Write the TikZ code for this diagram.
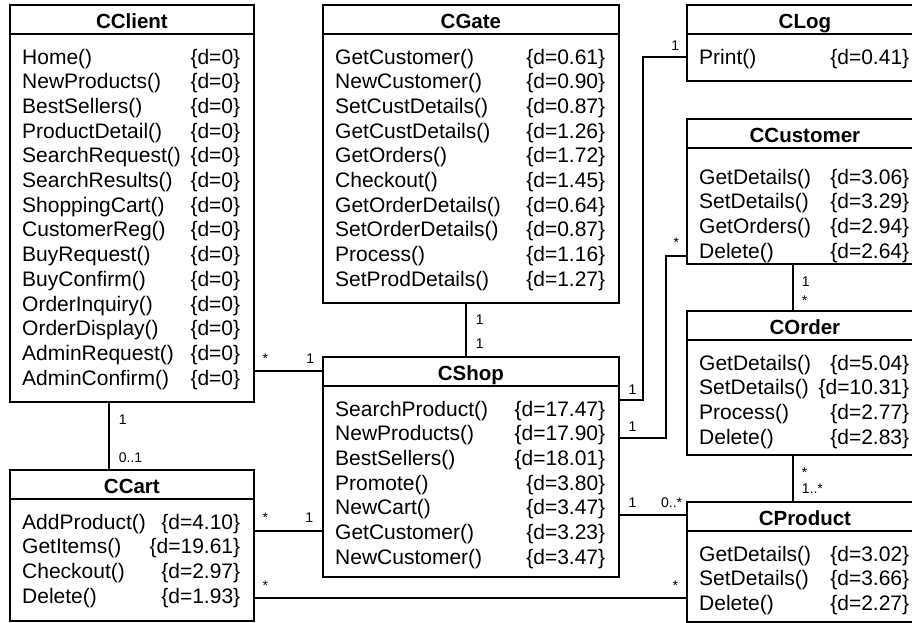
\documentclass[tikz,border=0pt]{standalone}
\usepackage{fontspec}
\setmainfont{Liberation Sans}
\usetikzlibrary{shapes}

% one operation line of a class: name and its value
\newcommand{\meth}[2]{#1 & \{d=#2\}\\}

% class box: [first baseline], name, left, top, width, height, title, operations
\newcommand{\umlclass}[8][60]{%
  \node[classbox, minimum width=#5, minimum height=#6] (#2) at (#3,#4) {};
  \draw[assoc] ([yshift=-30pt]#2.north west) -- ([yshift=-30pt]#2.north east);
  \node[classname] (#2-name) at ([yshift=-24pt]#2.north) {#7};
  \node[classbody] (#2-ops) at ([shift={(13pt,-#1pt)}]#2.north west)
    {\begin{tabular*}{\dimexpr#5pt-26pt\relax}[t]{@{}l@{\extracolsep{\fill}}r@{}}#8\end{tabular*}};
}

\begin{document}
\begin{tikzpicture}[x=1pt, y=-1pt,
    classbox/.style={draw, line width=1.8pt, anchor=north west, inner sep=0pt},
    classname/.style={anchor=base, inner sep=0pt, font=\bfseries\fontsize{20.5}{24}\selectfont},
    classbody/.style={anchor=base west, inner sep=0pt, font=\fontsize{21}{24.7}\selectfont},
    assoc/.style={line width=1.8pt},
    mult/.style={inner sep=0pt, font=\fontsize{14}{16}\selectfont}]
  \clip (0,0) rectangle (912,622);

  % classes
  \umlclass{client}{9}{4}{244}{397}{CClient}{%
    \meth{Home()}{0}\meth{NewProducts()}{0}\meth{BestSellers()}{0}%
    \meth{ProductDetail()}{0}\meth{SearchRequest()}{0}\meth{SearchResults()}{0}%
    \meth{ShoppingCart()}{0}\meth{CustomerReg()}{0}\meth{BuyRequest()}{0}%
    \meth{BuyConfirm()}{0}\meth{OrderInquiry()}{0}\meth{OrderDisplay()}{0}%
    \meth{AdminRequest()}{0}\meth{AdminConfirm()}{0}}
  \umlclass{gate}{322}{4}{296}{298}{CGate}{%
    \meth{GetCustomer()}{0.61}\meth{NewCustomer()}{0.90}\meth{SetCustDetails()}{0.87}%
    \meth{GetCustDetails()}{1.26}\meth{GetOrders()}{1.72}\meth{Checkout()}{1.45}%
    \meth{GetOrderDetails()}{0.64}\meth{SetOrderDetails()}{0.87}%
    \meth{Process()}{1.16}\meth{SetProdDetails()}{1.27}}
  \umlclass{log}{686}{4}{236}{76}{CLog}{\meth{Print()}{0.41}}
  \umlclass[66]{customer}{686}{118}{236}{145}{CCustomer}{%
    \meth{GetDetails()}{3.06}\meth{SetDetails()}{3.29}%
    \meth{GetOrders()}{2.94}\meth{Delete()}{2.64}}
  \umlclass{order}{686}{310}{236}{144}{COrder}{%
    \meth{GetDetails()}{5.04}\meth{SetDetails()}{10.31}%
    \meth{Process()}{2.77}\meth{Delete()}{2.83}}
  \umlclass{shop}{322}{356}{296}{220}{CShop}{%
    \meth{SearchProduct()}{17.47}\meth{NewProducts()}{17.90}\meth{BestSellers()}{18.01}%
    \meth{Promote()}{3.80}\meth{NewCart()}{3.47}\meth{GetCustomer()}{3.23}%
    \meth{NewCustomer()}{3.47}}
  \umlclass{cart}{9}{469}{244}{151}{CCart}{%
    \meth{AddProduct()}{4.10}\meth{GetItems()}{19.61}%
    \meth{Checkout()}{2.97}\meth{Delete()}{1.93}}
  \umlclass{product}{686}{501}{236}{120}{CProduct}{%
    \meth{GetDetails()}{3.02}\meth{SetDetails()}{3.66}\meth{Delete()}{2.27}}

  % associations, multiplicities at both ends
  \draw[assoc] ([yshift=-367pt]client.north east)
      node[mult, anchor=base west, shift={(7pt,8pt)}] (cs-a) {*}
    -- ([yshift=-15pt]shop.north west)
      node[mult, anchor=base east, shift={(-7pt,8pt)}] (cs-b) {1};
  \draw[assoc] ([xshift=100pt]client.south west)
      node[mult, anchor=base west, shift={(9pt,-22pt)}] (cc-a) {1}
    -- ([xshift=100pt]cart.north west)
      node[mult, anchor=base west, shift={(9pt,7pt)}] (cc-b) {0..1};
  \draw[assoc] ([xshift=144pt]gate.south west)
      node[mult, anchor=base west, shift={(9pt,-21pt)}] (gs-a) {1}
    -- ([xshift=144pt]shop.north west)
      node[mult, anchor=base west, shift={(9pt,8pt)}] (gs-b) {1};
  \draw[assoc] ([yshift=-44pt]shop.north east)
      node[mult, anchor=base west, shift={(8pt,6pt)}] (sl-a) {1}
    -- ++(23,0) |- ([yshift=-53pt]log.north west)
      node[mult, anchor=base east, shift={(-6pt,7pt)}] (sl-b) {1};
  \draw[assoc] ([yshift=-82pt]shop.north east)
      node[mult, anchor=base west, shift={(8pt,7pt)}] (su-a) {1}
    -- ++(46,0) |- ([yshift=-138pt]customer.north west)
      node[mult, anchor=base east, shift={(-6pt,9pt)}] (su-b) {*};
  \draw[assoc] ([xshift=107pt]customer.south west)
      node[mult, anchor=base west, shift={(8pt,-22pt)}] (uo-a) {1}
    -- ([xshift=107pt]order.north west)
      node[mult, anchor=base west, shift={(8pt,5pt)}] (uo-b) {*};
  \draw[assoc] ([xshift=107pt]order.south west)
      node[mult, anchor=base west, shift={(8pt,-22pt)}] (op-a) {*}
    -- ([xshift=107pt]product.north west)
      node[mult, anchor=base west, shift={(8pt,8pt)}] (op-b) {1..*};
  \draw[assoc] ([yshift=-159pt]shop.north east)
      node[mult, anchor=base west, shift={(8pt,8pt)}] (sp-a) {1}
    -- ([yshift=-14pt]product.north west)
      node[mult, anchor=base east, shift={(-3pt,8pt)}] (sp-b) {0..*};
  \draw[assoc] ([yshift=-62pt]cart.north east)
      node[mult, anchor=base west, shift={(7pt,9pt)}] (ts-a) {*}
    -- ([yshift=-175pt]shop.north west)
      node[mult, anchor=base east, shift={(-8pt,9pt)}] (ts-b) {1};
  \draw[assoc] ([yshift=-129pt]cart.north east)
      node[mult, anchor=base west, shift={(7pt,8pt)}] (tp-a) {*}
    -- ([yshift=-97pt]product.north west)
      node[mult, anchor=base east, shift={(-7pt,8pt)}] (tp-b) {*};
\end{tikzpicture}
\end{document}
